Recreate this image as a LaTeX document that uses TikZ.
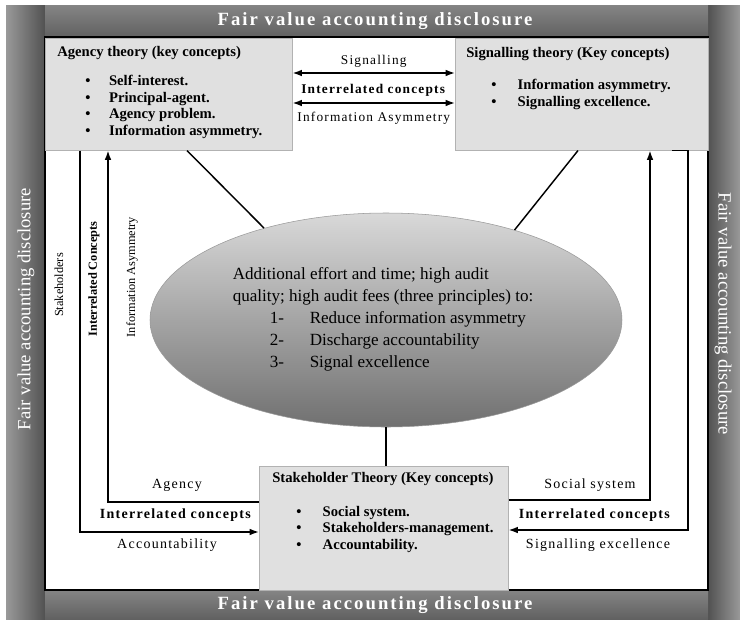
\documentclass[tikz,border=0pt]{standalone}
\usepackage{fontspec}
\setmainfont{Liberation Serif}
\newfontfamily\barfont[LetterSpace=11]{Liberation Serif}
\newfontfamily\lblfont[LetterSpace=9]{Liberation Serif}
\usetikzlibrary{calc,positioning,shapes.geometric,arrows.meta}
\tikzset{
  keybox/.style={draw=black!30, fill=black!12, anchor=north west, inner sep=0pt},
  boxtext/.style={anchor=west, inner sep=0pt, font=\fontsize{11}{12.5}\selectfont\bfseries},
  conn/.style={line width=1.1pt},
  link/.style={conn, -{Latex[length=7pt,width=5pt]}},
  toplbl/.style={inner sep=0pt, font=\lblfont\fontsize{10}{12}\selectfont},
  botlbl/.style={inner sep=0pt, font=\lblfont\fontsize{10.5}{12}\selectfont},
  barlbl/.style={text=white, inner sep=0pt, font=\barfont\fontsize{14}{16}\selectfont\bfseries},
  sidelbl/.style={text=white, inner sep=0pt, font=\fontsize{14}{16}\selectfont},
  vlbl/.style={inner sep=0pt, rotate=90, font=\fontsize{9.25}{11}\selectfont},
}

\begin{document}
\begin{tikzpicture}[x=0.75pt,y=0.75pt,yscale=-1]
\useasboundingbox (0,0) rectangle (740,619);
%Frame
\shade[left color=black!40, right color=black!68] (6,5) rectangle (45,619);
\shade[left color=black!68, right color=black!40] (708,5) rectangle (740,619);
\shade[top color=black!48, bottom color=black!62] (45,5) rectangle (708,37);
\shade[top color=black!48, bottom color=black!62] (45,590) rectangle (708,619);
\draw[line width=1.5pt, fill=white] (45,37) rectangle (708,590);
\node[barlbl] (topbar) at (375,21) {Fair value accounting disclosure};
\node[barlbl] (botbar) at (375,605) {Fair value accounting disclosure};
\node[sidelbl, rotate=90] (leftbar) at (26,309) {Fair value accounting disclosure};
\node[sidelbl, rotate=-90] (rightbar) at (723,314) {Fair value accounting disclosure};

%Key concept boxes
\node[keybox, minimum width=185.25pt, minimum height=84pt] (agency) at (45,38) {};
\node[keybox, minimum width=189.75pt, minimum height=84pt] (signal) at (455,38) {};
\node[keybox, minimum width=186.75pt, minimum height=93pt] (stake) at (259,466) {};

\node[boxtext] (agencyT) at ($(agency.north west)+(12,15)$) {Agency theory (key concepts)};
\node[boxtext] (agencyL) at ($(agency.north west)+(40,69)$) {\begin{tabular}{@{}l@{\hspace{14pt}}l@{}}
\textbullet & Self-interest.\\
\textbullet & Principal-agent.\\
\textbullet & Agency problem.\\
\textbullet & Information asymmetry.
\end{tabular}};

\node[boxtext] (signalT) at ($(signal.north west)+(11,16)$) {Signalling theory (Key concepts)};
\node[boxtext] (signalL) at ($(signal.north west)+(36,56.5)$) {\begin{tabular}{@{}l@{\hspace{16pt}}l@{}}
\textbullet & Information asymmetry.\\
\textbullet & Signalling excellence.
\end{tabular}};

\node[boxtext] (stakeT) at ($(stake.north west)+(13,13)$) {Stakeholder Theory (Key concepts)};
\node[boxtext] (stakeL) at ($(stake.north west)+(37,63.5)$) {\begin{tabular}{@{}l@{\hspace{16pt}}l@{}}
\textbullet & Social system.\\
\textbullet & Stakeholders-management.\\
\textbullet & Accountability.
\end{tabular}};

%Ellipse
\node[ellipse, draw=black!40, top color=black!15, bottom color=black!56,
  minimum width=354pt, minimum height=160.5pt, inner sep=0pt] (ell) at (386,320) {};
\node[inner sep=0pt, font=\fontsize{12.8}{16.5}\selectfont] (ellT) at (383,319) {\begin{tabular}{@{}l@{}}
Additional effort and time; high audit\\
quality; high audit fees (three principles) to:\\
\hspace*{27.75pt}\makebox[30pt][l]{1-}Reduce information asymmetry\\
\hspace*{27.75pt}\makebox[30pt][l]{2-}Discharge accountability\\
\hspace*{27.75pt}\makebox[30pt][l]{3-}Signal excellence
\end{tabular}};

%Straight Lines to the ellipse
\draw[conn] ($(agency.south west)+(142,0)$) -- (ell.143);
\draw[conn] ($(signal.south west)+(123,0)$) -- (ell.35);
\draw[conn] (ell.south) -- (ell.south |- stake.north);

%Top arrows
\coordinate (aR1) at ($(agency.north east)+(0,35)$);
\coordinate (aR2) at ($(agency.north east)+(0,65)$);
\coordinate (sg1) at (aR1 -| signal.west);
\coordinate (sg2) at (aR2 -| signal.west);
\draw[link, {Latex[length=7pt,width=5pt]}-{Latex[length=7pt,width=5pt]}] (aR1) -- (sg1);
\draw[link, {Latex[length=7pt,width=5pt]}-{Latex[length=7pt,width=5pt]}] (aR2) -- (sg2);
\node[toplbl] (sigLbl) at ($(aR1)!0.5!(sg1)+(0,-12)$) {Signalling};
\node[toplbl] (topRel) at ($(aR1)!0.5!(sg1)+(0,17)$) {\textbf{Interrelated concepts}};
\node[toplbl] (infoLbl) at ($(aR2)!0.5!(sg2)+(0,15)$) {Information Asymmetry};

%Left arrows
\coordinate (aL1) at ($(agency.south west)+(35,0)$);
\coordinate (aL2) at ($(agency.south west)+(63,0)$);
\coordinate (sL1) at ($(stake.north west)+(0,66)$);
\coordinate (sL2) at ($(stake.north west)+(0,36)$);
\draw[link] (aL1) |- (sL1);
\draw[link] (sL2) -| (aL2);
\node[vlbl] (stakeLbl) at (59,285) {Stakeholders};
\node[vlbl] (leftRel) at (94,279) {\bfseries Interrelated Concepts};
\node[vlbl] (asymLbl) at (132,277) {Information Asymmetry};
\node[botlbl] (agLbl) at (177,485) {Agency};
\node[botlbl] (botRelL) at (176,515) {\textbf{Interrelated concepts}};
\node[botlbl] (accLbl) at (167,545) {Accountability};

%Right arrows
\coordinate (gR1) at ($(signal.south west)+(195,0)$);
\coordinate (gR2) at ($(signal.south west)+(217,0)$);
\coordinate (sR1) at ($(stake.north east)+(0,34)$);
\coordinate (sR2) at ($(stake.north east)+(0,64)$);
\draw[link] (sR1) -| (gR1);
\draw[link] (gR2) -- ++(16,0) |- (sR2);
\node[botlbl] (socLbl) at (590,485) {Social system};
\node[botlbl] (botRelR) at (595,515) {\textbf{Interrelated concepts}};
\node[botlbl] (excLbl) at (598,545) {Signalling excellence};
\end{tikzpicture}
\end{document}
